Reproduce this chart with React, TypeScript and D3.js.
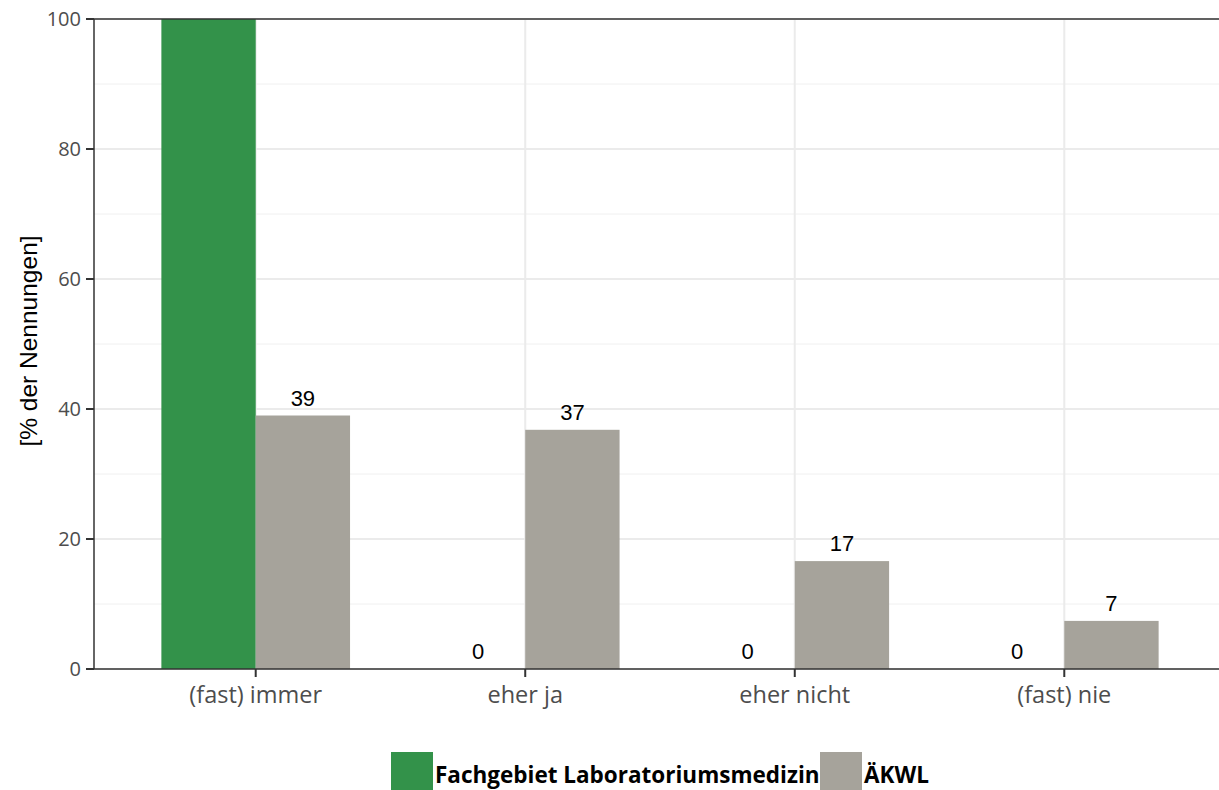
import { scaleBand, scaleLinear, range } from 'd3';

const categories = ['(fast) immer', 'eher ja', 'eher nicht', '(fast) nie'];
const seriesNames = ['Fachgebiet Laboratoriumsmedizin', 'ÄKWL'];
const labValues = [100, 0, 0, 0];
const akwlValues = [39, 36.8, 16.6, 7.4];
const yTicks = [0, 20, 40, 60, 80, 100];
const yMinor = [10, 30, 50, 70, 90];

const WIDTH = 1219;
const HEIGHT = 790;
const LEFT = 94;
const TOP = 19;
const BOTTOM = 669;
const RIGHT = 1226;
const GREEN = '#33924a';
const GREY = '#a6a39b';

export default function App() {
  const x = scaleBand<string>()
    .domain(categories)
    .range([LEFT, RIGHT])
    .paddingInner(0)
    .paddingOuter(0.1);
  const y = scaleLinear().domain([0, 100]).range([BOTTOM, TOP]);
  const step = x.step();
  const barW = step * 0.35;
  const cx = (c: string) => (x(c) ?? 0) + x.bandwidth() / 2;

  const series = [
    { name: seriesNames[0], values: labValues, color: GREEN, offset: -barW },
    { name: seriesNames[1], values: akwlValues, color: GREY, offset: 0 },
  ];

  return (
    <svg
      width={WIDTH}
      height={HEIGHT}
      style={{ position: 'absolute', left: 0, top: 0, background: '#fff' }}
    >
      {/* grid */}
      {yMinor.map(v => (
        <line key={'m' + v} x1={LEFT} x2={RIGHT} y1={y(v)} y2={y(v)} stroke="#f0f0f0" strokeWidth={1} />
      ))}
      {yTicks.map(v => (
        <line key={'g' + v} x1={LEFT} x2={RIGHT} y1={y(v)} y2={y(v)} stroke="#ebebeb" strokeWidth={2} />
      ))}
      {categories.map(c => (
        <line key={'v' + c} x1={cx(c)} x2={cx(c)} y1={TOP} y2={BOTTOM} stroke="#ebebeb" strokeWidth={2} />
      ))}

      {/* bars */}
      {series.map(s =>
        categories.map((c, i) => (
          <rect
            key={s.name + c}
            x={cx(c) + s.offset}
            y={y(s.values[i])}
            width={barW}
            height={BOTTOM - y(s.values[i])}
            fill={s.color}
          />
        )),
      )}

      {/* value labels */}
      {series.map(s =>
        categories.map((c, i) =>
          s.values[i] >= 100 ? null : (
            <text
              key={'l' + s.name + c}
              x={cx(c) + s.offset + barW / 2}
              y={y(s.values[i]) - 10}
              textAnchor="middle"
              fontFamily="Liberation Sans, Arial, sans-serif"
              fontSize={22}
              fill="#000"
            >
              {Math.round(s.values[i])}
            </text>
          ),
        ),
      )}

      {/* axes */}
      <line x1={LEFT} x2={RIGHT} y1={TOP} y2={TOP} stroke="#333" strokeWidth={1.5} />
      <line x1={LEFT} x2={LEFT} y1={TOP} y2={BOTTOM} stroke="#333" strokeWidth={1.5} />
      <line x1={LEFT} x2={RIGHT} y1={BOTTOM} y2={BOTTOM} stroke="#333" strokeWidth={1.5} />
      {yTicks.map(v => (
        <g key={'t' + v} transform={`translate(${LEFT}, ${y(v)})`}>
          <line x1={-8} x2={0} stroke="#333" strokeWidth={2} />
          <text
            x={-13}
            dy="0.36em"
            textAnchor="end"
            fontFamily="Open Sans, sans-serif"
            fontSize={20}
            fill="#4d4d4d"
          >
            {v}
          </text>
        </g>
      ))}
      {categories.map(c => (
        <g key={'xt' + c} transform={`translate(${cx(c)}, ${BOTTOM})`}>
          <line y1={0} y2={8} stroke="#333" strokeWidth={2} />
          <text
            y={34}
            textAnchor="middle"
            fontFamily="Open Sans, sans-serif"
            fontSize={23.5}
            fill="#4d4d4d"
          >
            {c}
          </text>
        </g>
      ))}
      <text
        transform={`translate(37, ${341}) rotate(-90)`}
        textAnchor="middle"
        fontFamily="Liberation Sans, Arial, sans-serif"
        fontSize={24.5}
        fill="#000"
      >
        [% der Nennungen]
      </text>

      {/* legend */}
      {range(series.length).map(i => {
        const lx = i === 0 ? 391 : 820;
        return (
          <g key={'lg' + i}>
            <rect x={lx} y={752} width={42} height={40} fill={series[i].color} />
            <text
              x={lx + 44}
              y={783}
              fontFamily="Open Sans, sans-serif"
              fontWeight="bold"
              fontSize={22.5}
              fill="#000"
            >
              {series[i].name}
            </text>
          </g>
        );
      })}
    </svg>
  );
}
